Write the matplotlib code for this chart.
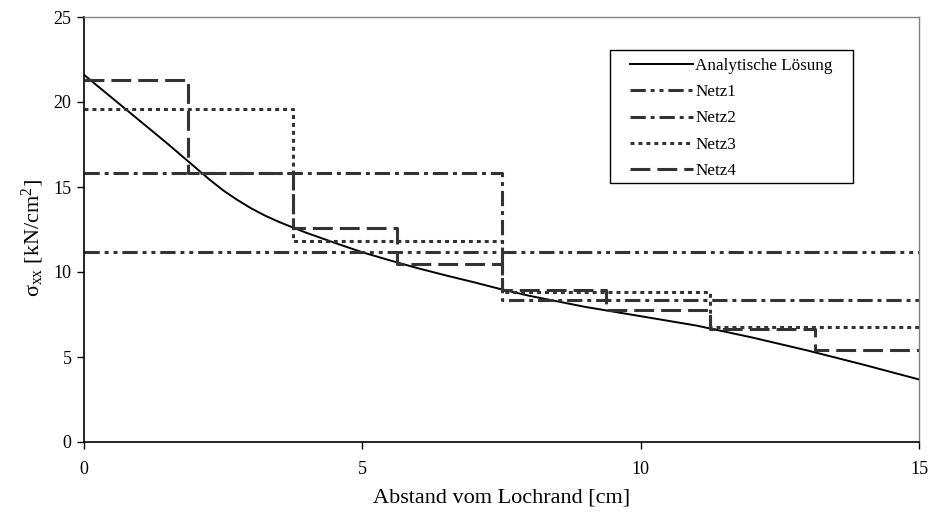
import matplotlib.pyplot as plt
from matplotlib.patches import Rectangle

plt.rcParams['font.family'] = ['Liberation Serif', 'DejaVu Serif']
plt.rcParams['mathtext.fontset'] = 'custom'
plt.rcParams['mathtext.rm'] = 'Liberation Serif'
plt.rcParams['mathtext.it'] = 'Liberation Serif:italic'

# analytical solution
x_ana = [0, 0.5, 1, 1.5, 1.75, 2, 2.25, 2.5, 2.75, 3, 3.25, 3.5, 3.75, 4, 4.5, 5, 5.5,
         6, 6.5, 7, 7.5, 8, 9, 10, 11, 12, 13, 14, 15]
y_ana = [21.6, 20.25, 18.9, 17.55, 16.85, 16.15, 15.45, 14.8, 14.25, 13.75, 13.32, 12.95,
         12.62, 12.3, 11.72, 11.16, 10.68, 10.22, 9.8, 9.4, 8.98, 8.6, 7.95, 7.4,
         6.85, 6.15, 5.38, 4.55, 3.68]

# element-wise constant stresses of the four meshes
edges1 = [0, 15]
netz1 = [11.2]
edges2 = [0, 7.5, 15]
netz2 = [15.8, 8.33]
edges3 = [0, 3.75, 7.5, 11.25, 15]
netz3 = [19.6, 11.85, 8.8, 6.78]
edges4 = [0, 1.875, 3.75, 5.625, 7.5, 9.375, 11.25, 13.125, 15]
netz4 = [21.3, 15.8, 12.57, 10.45, 8.94, 7.75, 6.63, 5.4]

labels = ["Analytische Lösung", "Netz1", "Netz2", "Netz3", "Netz4"]

W, H = 932, 520
fig = plt.figure(figsize=(W / 100, H / 100), dpi=100)
ax = fig.add_axes([84 / W, 1 - 442 / H, 835 / W, 425 / H])

grey = '#333333'
lw = 2.2

def step(edges, vals, ls, label):
    ax.step(edges, list(vals) + [vals[-1]], where='post', color=grey, lw=lw,
            linestyle=ls, label=label, solid_capstyle='butt', dash_capstyle='butt')

ax.plot(x_ana, y_ana, color='black', lw=1.4, label=labels[0])
step(edges1, netz1, (0, (5, 1.6, 1.3, 1.6, 1.3, 1.6)), labels[1])
step(edges2, netz2, (0, (5, 1.6, 1.3, 1.6)), labels[2])
step(edges3, netz3, (0, (1.3, 1.3)), labels[3])
step(edges4, netz4, (0, (6.5, 2.3)), labels[4])

ax.set_xlim(0, 15)
ax.set_ylim(0, 25)
ax.set_xticks([0, 5, 10, 15])
ax.set_yticks([0, 5, 10, 15, 20, 25])
ax.tick_params(direction='out', length=5, width=1, labelsize=13, colors='black')
ax.tick_params(axis='x', pad=9)
ax.tick_params(axis='y', pad=4)

for s in ['left', 'bottom']:
    ax.spines[s].set_color('black')
    ax.spines[s].set_linewidth(1.2)
for s in ['top', 'right']:
    ax.spines[s].set_color('#808080')
    ax.spines[s].set_linewidth(1.0)

ax.set_xlabel("Abstand vom Lochrand [cm]", fontsize=16)
ax.xaxis.set_label_coords(0.5, -0.11)
ax.set_ylabel(r"σ$_{\mathrm{xx}}$ [kN/cm$^{2}$]", fontsize=16)
ax.yaxis.set_label_coords(-0.045, 0.48)

# legend without its own frame, frame drawn separately
leg = ax.legend(loc='upper left', bbox_to_anchor=(630 / W, 1 - 58 / H),
                bbox_transform=fig.transFigure, fontsize=12.3, frameon=False,
                handlelength=3.7, handletextpad=0.12, borderpad=0,
                labelspacing=0.6, borderaxespad=0)
fig.patches.append(Rectangle((610 / W, 1 - 183 / H), 243 / W, 133 / H,
                             transform=fig.transFigure, fill=False,
                             edgecolor='black', lw=1.0))

fig.savefig('out.png', dpi=100)
